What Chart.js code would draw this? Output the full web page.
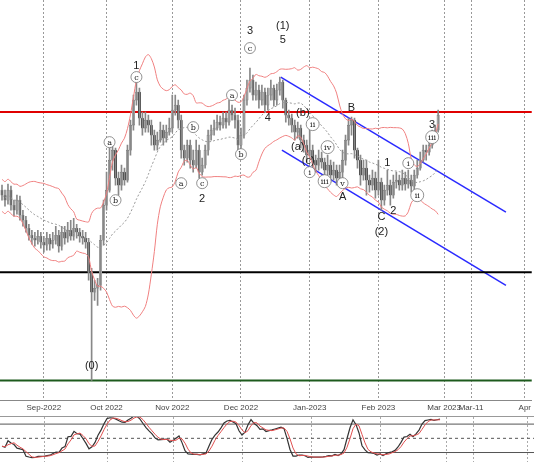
<!DOCTYPE html>
<html><head><meta charset="utf-8">
<script src="https://cdn.jsdelivr.net/npm/chart.js@4"></script>
<style>html,body{margin:0;padding:0;background:#fff;width:534px;height:462px;overflow:hidden}
#a{position:absolute;left:0;top:0}#b{position:absolute;left:0;top:416px;border-top:1px solid #999;box-sizing:border-box}</style>
</head><body>
<div id="a" style="width:534px;height:416px"><canvas id="c1"></canvas></div>
<div id="b" style="width:534px;height:46px"><canvas id="c2"></canvas></div>
<script>
// price values are in chart units where the axis runs top->bottom (reversed)
const closes=[195,200,190,205,210,200,215,220,228,235,238,240,236,242,245,238,244,240,235,246,232,238,230,236,228,232,236,238,242,272,292,288,285,240,205,190,160,150,178,185,172,180,150,125,100,92,118,128,120,125,135,145,140,130,138,132,128,110,105,120,150,158,145,160,165,150,172,165,150,135,130,128,122,125,118,122,110,115,120,145,135,100,88,80,95,90,100,92,105,95,88,100,90,82,100,115,118,125,132,128,140,145,155,150,160,165,158,162,170,165,175,170,178,172,160,140,125,120,150,160,175,168,180,185,178,190,182,200,190,185,195,182,180,185,178,184,180,186,175,168,160,150,152,145,140,130,115];
const opens=[190].concat(closes.slice(0,-1));
const highs=[185,190,184,186,200,195,196,210,216,224,230,232,230,232,236,232,234,232,226,230,226,226,222,220,218,224,228,230,232,238,268,280,278,235,200,172,140,145,148,172,165,168,145,120,95,77,88,112,112,115,120,130,132,122,125,125,118,95,95,100,115,145,140,140,150,140,145,158,145,130,125,120,115,116,112,112,100,105,108,115,128,95,80,68,75,82,85,85,88,88,80,85,84,77,80,98,110,114,120,122,125,135,140,130,145,155,150,152,158,155,160,162,165,165,150,135,118,117,118,148,155,160,160,175,170,172,160,178,185,170,180,175,172,175,170,172,170,175,170,160,152,145,145,138,130,125,110];
const lows=[200,206,204,210,216,214,220,226,232,240,244,246,244,248,252,250,250,248,244,252,250,244,242,240,240,238,242,244,248,280,380,300,305,290,245,210,192,170,185,195,190,185,182,155,130,105,125,135,132,132,145,150,150,142,145,142,135,132,115,128,158,165,162,168,172,168,178,175,168,155,140,135,130,130,128,128,125,120,128,155,148,138,105,92,100,100,108,105,112,110,100,106,105,95,108,122,125,132,140,138,148,152,162,158,168,172,170,168,178,175,182,180,185,182,178,165,145,135,158,168,185,180,195,192,190,198,195,210,205,195,205,198,188,190,190,190,188,192,190,178,170,162,160,155,148,142,132];
const monthTicks=[14,35,57,80,103,126,148,157,175];
const monthLabels=['Sep-2022','Oct 2022','Nov 2022','Dec 2022','Jan-2023','Feb 2023','Mar 2023','Mar-11','Apr'];
const hLevels=[{y:112,c:'#e00000'},{y:272,c:'#000'},{y:380,c:'#1d5a1d'}];
const channelUpper=[{x:93.3,y:77},{x:168.7,y:212}];
const channelLower=[{x:93.7,y:150},{x:168.7,y:285}];
// [candle index, level, text, circled]
const notes=[[30,366,'(0)',0],[36,142,'a',1],[38,200,'b',1],[45,66,'1',0],[45,77,'c',1],[60,183,'a',1],[64,127,'b',1],[67,183,'c',1],[67,199,'2',0],[77,95,'a',1],[80,154,'b',1],[83,31,'3',0],[83,48,'c',1],[89,118,'4',0],[94,26,'(1)',0],[94,40,'5',0],[100.7,113,'(b)',0],[99,147,'(a)',0],[104,124,'ii',1],[103,172,'i',1],[102.5,161,'(c)',0],[109,147,'iv',1],[108,181,'iii',1],[114,183,'v',1],[114,197,'A',0],[117,108,'B',0],[129,163,'1',0],[127,217,'C',0],[127,232,'(2)',0],[131,211,'2',0],[136,163,'i',1],[139,195,'ii',1],[144,137,'iii',1],[144,125,'3',0]];

const N=closes.length, idx=[...Array(N).keys()];
function bb(k){return idx.map(i=>{const s=closes.slice(Math.max(0,i-19),i+1);const m=s.reduce((a,b)=>a+b,0)/s.length;const sd=Math.sqrt(s.reduce((a,b)=>a+(b-m)**2,0)/s.length);return {x:i,y:m+k*Math.max(sd,8)};});}
const tickSet=ax=>{ax.ticks=monthTicks.map(v=>({value:v}));};
const xs={type:'linear',offset:false,min:-0.67,max:177.33,afterBuildTicks:tickSet,
  grid:{color:'#999',drawTicks:false,offset:false},border:{display:true,color:'#888',dash:[2,2]},
  ticks:{font:{size:8,family:'Liberation Sans'},color:'#444',padding:3,maxRotation:0,autoSkip:false,callback:(v)=>{const k=monthTicks.indexOf(v);return k>=0?monthLabels[k]:'';}}};
const notePlugin={id:'notes',afterDatasetsDraw(ch){const c=ch.ctx,X=ch.scales.x,Y=ch.scales.y;c.save();c.textAlign='center';c.textBaseline='middle';
 notes.forEach(([i,v,t,circ])=>{const px=X.getPixelForValue(i),py=Y.getPixelForValue(v);
  if(circ){c.beginPath();c.arc(px,py,t.length>1?6.5:5.5,0,7);c.fillStyle='#fff';c.fill();c.strokeStyle='#777';c.lineWidth=0.8;c.stroke();c.fillStyle='#222';c.font='8px "DejaVu Serif"';c.fillText(t,px,py+0.5);}
  else{c.fillStyle='#222';c.font='11px "Liberation Sans"';c.fillText(t,px,py);}});
 c.restore();}};
const ds=[];
ds.push({type:'line',data:bb(2),borderColor:'#f08080',borderWidth:1,pointRadius:0,tension:0.3});
ds.push({type:'line',data:bb(-2),borderColor:'#f08080',borderWidth:1,pointRadius:0,tension:0.3});
ds.push({type:'line',data:bb(0),borderColor:'#999',borderWidth:1,borderDash:[2,2],pointRadius:0,tension:0.3});
ds.push({type:'bar',data:idx.map(i=>({x:i,y:[highs[i],lows[i]]})),backgroundColor:'#888',barThickness:1,grouped:false});
ds.push({type:'bar',data:idx.map(i=>({x:i,y:[opens[i],closes[i]===opens[i]?closes[i]+1:closes[i]]})),backgroundColor:idx.map(i=>closes[i]<opens[i]?'#fff':'#000'),borderColor:'#666',borderWidth:0.6,borderSkipped:false,barThickness:2.4,grouped:false});
hLevels.forEach(h=>ds.push({type:'line',data:[{x:-1,y:h.y},{x:178,y:h.y}],borderColor:h.c,borderWidth:2,pointRadius:0}));
[channelUpper,channelLower].forEach(d=>ds.push({type:'line',data:d,borderColor:'#2a2aff',borderWidth:1.5,pointRadius:0}));
new Chart(document.getElementById('c1'),{data:{datasets:ds},plugins:[notePlugin],options:{animation:false,responsive:true,maintainAspectRatio:false,layout:{padding:0},
 plugins:{legend:{display:false},tooltip:{enabled:false}},
 scales:{x:xs,y:{reverse:true,min:0,max:400,display:false}}}});
// stochastic oscillator
const K=idx.map(i=>{const a=Math.max(0,i-13);const hh=Math.min(...highs.slice(a,i+1)),ll=Math.max(...lows.slice(a,i+1));return 100*(ll-closes[i])/(ll-hh);});
const sm=(arr,n)=>arr.map((v,i)=>{const s=arr.slice(Math.max(0,i-n+1),i+1);return s.reduce((a,b)=>a+b,0)/s.length;});
const K3=sm(K,3),D3=sm(K3,3);
const osc=[{type:'line',data:idx.map(i=>({x:i,y:D3[i]})),borderColor:'#e05050',borderWidth:1,pointRadius:0},
 {type:'line',data:idx.map(i=>({x:i,y:K3[i]})),borderColor:'#333',borderWidth:1.2,pointRadius:0}];
[[80,[]],[50,[3,3]],[20,[]]].forEach(([v,d])=>osc.push({type:'line',data:[{x:-1,y:v},{x:178,y:v}],borderColor:'#555',borderWidth:1,borderDash:d,pointRadius:0}));
new Chart(document.getElementById('c2'),{data:{datasets:osc},options:{animation:false,responsive:true,maintainAspectRatio:false,layout:{padding:0},
 plugins:{legend:{display:false},tooltip:{enabled:false}},
 scales:{x:{type:'linear',offset:false,min:-0.67,max:177.33,afterBuildTicks:tickSet,grid:{color:'#aaa',drawTicks:false},ticks:{display:false},border:{display:false,dash:[2,2]}},
 y:{min:0,max:95,display:false}}}});
</script></body></html>
